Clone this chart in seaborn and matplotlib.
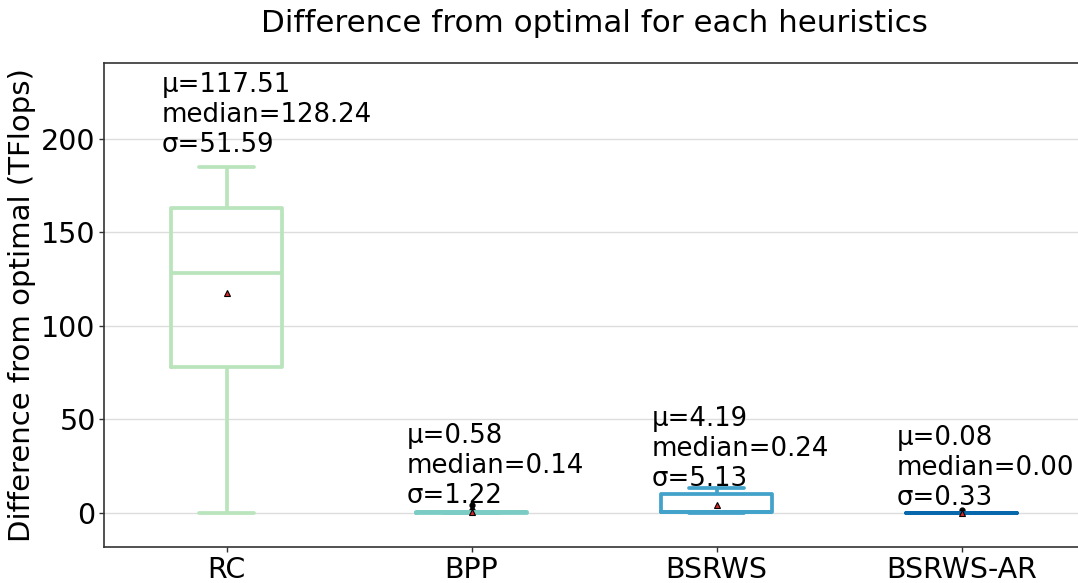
import numpy as np
import pandas as pd
import matplotlib
matplotlib.use("Agg")
import matplotlib.pyplot as plt
import seaborn as sns

# Per-heuristic differences from the optimal throughput (TFlops)
heuristics = ["RC", "BPP", "BSRWS", "BSRWS-AR"]
rc_diff = [0, 70, 73.39, 78, 106.5, 123.5, 128.24, 130, 135, 163, 165, 170, 185]
bpp_diff = [0, 0, 0.02, 0.05, 0.08, 0.11, 0.14, 0.18, 0.22, 0.3, 0.4, 1.67, 4.37]
bsrws_diff = [0, 0.05, 0.1, 0.15, 0.2, 0.22, 0.24, 4.1, 4.91, 10, 10, 11, 13.5]
bsrws_ar_diff = [0] * 16 + [1.36]

series = [rc_diff, bpp_diff, bsrws_diff, bsrws_ar_diff]
df = pd.DataFrame({
    "heuristic": np.repeat(heuristics, [len(s) for s in series]),
    "diff": np.concatenate(series),
})

sns.set_style("white")
plt.rcParams["font.family"] = ["DejaVu Sans"]
plt.rcParams["text.color"] = "black"
plt.rcParams["axes.labelcolor"] = "black"
plt.rcParams["xtick.color"] = "black"
plt.rcParams["ytick.color"] = "black"

fig = plt.figure(figsize=(10.78, 5.83), dpi=100)
ax = fig.add_axes([104 / 1078, 1 - 547.3 / 583, 980 / 1078, 484.3 / 583])

# ColorBrewer GnBu, 4 classes
palette = ["#bae4bc", "#7bccc4", "#43a2ca", "#0868ac"]
sns.boxplot(
    data=df, x="heuristic", y="diff", hue="heuristic", order=heuristics,
    hue_order=heuristics, palette=palette, saturation=1, fill=False,
    width=0.45, linewidth=2.7, showmeans=True, legend=False, ax=ax,
    meanprops=dict(marker="^", markerfacecolor="#d62728",
                   markeredgecolor="black", markersize=4.5, markeredgewidth=0.8),
    flierprops=dict(marker="o", markerfacecolor="black",
                    markeredgecolor="black", markersize=3.5),
)

# Summary statistics written above each box
label_bottom = [189.8, 2.1, 11.2, 1.0]
for i, s in enumerate(series):
    arr = np.asarray(s, dtype=float)
    txt = f"μ={arr.mean():.2f}\nmedian={np.median(arr):.2f}\nσ={arr.std(ddof=1):.2f}"
    ax.text(i - 0.265, label_bottom[i], txt, ha="left", va="bottom",
            fontsize=18.7, color="black")

ax.set_xlim(-0.5, 3.5)
ax.set_ylim(-18.5, 240.7)
ax.set_yticks([0, 50, 100, 150, 200])
ax.yaxis.grid(True, color="#dddddd", linewidth=1)
ax.xaxis.grid(False)
ax.set_axisbelow(True)
for sp in ax.spines.values():
    sp.set_color("#333333")
    sp.set_linewidth(1.2)
ax.tick_params(axis="both", which="major", labelsize=20.5, length=3.5,
               pad=2.5, width=1, color="#333333", labelcolor="black",
               left=True, bottom=True)
ax.set_xlabel("")
ax.set_ylabel("Difference from optimal (TFlops)", fontsize=21, labelpad=4,
              color="black")
ax.set_title("Difference from optimal for each heuristics", fontsize=22.3,
             pad=22, color="black")

fig.savefig("out.png", dpi=100)
